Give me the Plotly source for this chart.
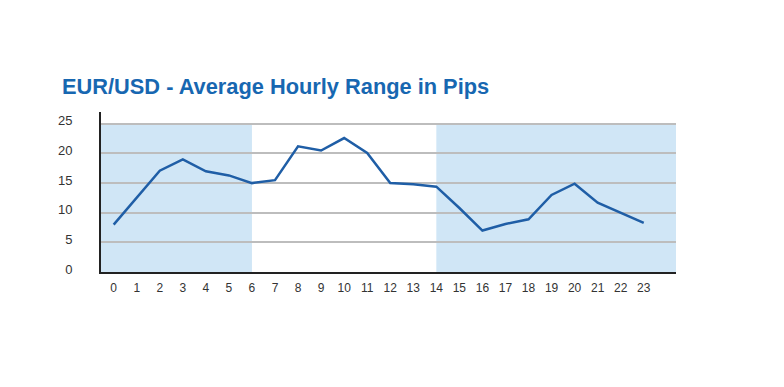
import plotly.graph_objects as go

hours = list(range(24))
pips = [8.0, 12.6, 17.1, 19.0, 17.0, 16.3, 15.0, 15.5, 21.2, 20.5, 22.6, 20.1,
        15.0, 14.8, 14.4, 10.8, 7.0, 8.1, 8.9, 13.0, 14.9, 11.7, 10.0, 8.3]
y_ticks = [0, 5, 10, 15, 20, 25]
shade_spans = [(-0.55, 6), (14, 24.4)]

fig = go.Figure()

for x0, x1 in shade_spans:
    fig.add_shape(type="rect", xref="x", yref="y", x0=x0, x1=x1, y0=0, y1=25,
                  fillcolor="#d0e6f6", line_width=0, layer="below")

fig.add_trace(go.Scatter(x=hours, y=pips, mode="lines",
                         line=dict(color="#1f5ea6", width=2.5),
                         hoverinfo="x+y", showlegend=False))

fig.update_layout(
    width=784, height=387,
    margin=dict(l=93, r=116, t=104, b=123),
    paper_bgcolor="white", plot_bgcolor="white",
    font=dict(family="Liberation Sans, Arial, sans-serif", color="#333333", size=12),
    title=dict(text="<b>EUR/USD - Average Hourly Range in Pips</b>",
               font=dict(size=21.8, color="#1767b1", family="Liberation Sans, Arial, sans-serif"),
               xref="container", yref="container", x=54/784, xanchor="left",
               y=1-78/387, yanchor="middle"),
)

fig.update_xaxes(range=[-0.55, 24.4], tickmode="array", tickvals=hours,
                 ticktext=[str(h) for h in hours],
                 showgrid=False, zeroline=False,
                 showline=True, linecolor="#222222", linewidth=2,
                 ticks="outside", ticklen=4, tickcolor="rgba(0,0,0,0)",
                 tickfont=dict(size=12, color="#333333"))
fig.update_yaxes(range=[0, 27], tickmode="array", tickvals=y_ticks,
                 ticktext=[str(v) for v in y_ticks],
                 showgrid=True, gridcolor="#bdbdbd", gridwidth=2,
                 zeroline=False,
                 showline=True, linecolor="#222222", linewidth=2,
                 ticks="outside", ticklen=24, tickcolor="rgba(0,0,0,0)",
                 ticklabelshift=-3,
                 tickfont=dict(size=13, color="#333333"))

fig.write_html("out.html")
